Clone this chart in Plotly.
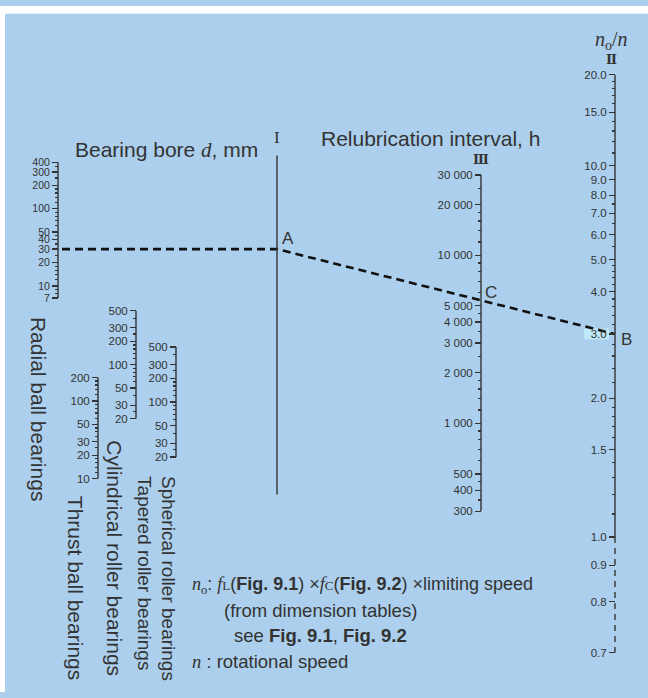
import numpy as np
import plotly.graph_objects as go

W, H = 648, 698
BLUE = "#abcfec"
INK = "#333333"
SANS = "Liberation Sans, Arial, sans-serif"
SERIF = "Liberation Serif, Times New Roman, serif"

# bearing bore d, mm - one scale per bearing type
radial_bore = [400, 300, 200, 100, 50, 40, 30, 20, 10, 7]
radial_minor = [8, 9, 12, 14, 16, 18, 25, 35, 45, 60, 70, 80, 90, 120, 140, 160, 180, 250, 350]
thrust_bore = [200, 100, 50, 30, 20, 10]
thrust_minor = [12, 14, 16, 18, 25, 35, 40, 45, 60, 70, 80, 90, 120, 140, 160, 180]
cyl_bore = [500, 300, 200, 100, 50, 30, 20]
cyl_minor = [25, 40, 60, 70, 80, 90, 120, 140, 160, 180, 250, 400]
sph_bore = [500, 300, 200, 100, 50, 30, 20]
sph_minor = [25, 40, 60, 70, 80, 90, 120, 140, 160, 180, 250, 400]

# relubrication interval, h (scale III)
interval_h = [30000, 20000, 10000, 5000, 4000, 3000, 2000, 1000, 500, 400, 300]
interval_labels = ["30 000", "20 000", "10 000", "5 000", "4 000", "3 000",
                   "2 000", "1 000", "500", "400", "300"]
interval_minor = [350, 450, 600, 700, 800, 900, 1200, 1400, 1600, 1800, 2500, 3500, 4500,
                  6000, 7000, 8000, 9000, 12000, 14000, 16000, 18000, 25000]

# speed ratio n0/n (scale II)
ratio = [20.0, 15.0, 10.0, 9.0, 8.0, 7.0, 6.0, 5.0, 4.0, 3.0, 2.0, 1.5, 1.0, 0.9, 0.8, 0.7]
ratio_minor = [19, 18, 17, 16, 14, 13, 12, 11, 7.5, 6.5, 5.5, 4.8, 4.6, 4.4, 4.2,
               3.8, 3.6, 3.4, 3.2, 2.8, 2.6, 2.4, 2.2, 1.9, 1.8, 1.7, 1.6,
               1.4, 1.3, 1.2, 1.1]

# worked example: radial ball bearing d = 30 mm, n0/n = 3.0
example_bore = 30
example_ratio = 3.0

# page placement of each scale: line x, pixel row of the top / bottom value
scales = {
    "radial": dict(x=58, top=159, bottom=297, vals=radial_bore, minor=radial_minor,
                   labels=[str(v) for v in radial_bore], font=10.5),
    "thrust": dict(x=98, top=378, bottom=481, vals=thrust_bore, minor=thrust_minor,
                   labels=[str(v) for v in thrust_bore]),
    "cyl": dict(x=136, top=310, bottom=420, vals=cyl_bore, minor=cyl_minor,
                labels=[str(v) for v in cyl_bore]),
    "sph": dict(x=176, top=347, bottom=459, vals=sph_bore, minor=sph_minor,
                labels=[str(v) for v in sph_bore]),
    "interval": dict(x=481, top=172, bottom=514, vals=interval_h, minor=interval_minor,
                     labels=interval_labels),
    # scale II is logarithmic in (n0/n - 0.5); dashed below 1.0
    "ratio": dict(x=615, top=70, bottom=658, vals=ratio, minor=ratio_minor,
                  labels=[f"{v:.1f}" for v in ratio], shift=0.5, solid_to=1.0),
}
X_I = 277  # scale I line


def px(x):
    return x / W


def py(y):
    return 1 - y / H


def tfm(s, v):
    return np.log10(np.asarray(v, dtype=float) - s.get("shift", 0.0))


def page_y(s, v):
    lo, hi = tfm(s, min(s["vals"])), tfm(s, max(s["vals"]))
    return s["top"] + (hi - tfm(s, v)) / (hi - lo) * (s["bottom"] - s["top"])


fig = go.Figure()
layout = {}
for i, (key, s) in enumerate(scales.items(), start=2):
    shift = s.get("shift", 0.0)
    vals = [v - shift for v in s["vals"]]
    minor = [v - shift for v in s["minor"]]
    low = min(vals)
    solid_low = s.get("solid_to", min(s["vals"])) - shift
    xa, ya = f"x{i}", f"y{i}"
    fig.add_trace(go.Scatter(x=[0, 0], y=[max(vals), solid_low], mode="lines",
                             line=dict(color=INK, width=1.4), xaxis=xa, yaxis=ya,
                             hoverinfo="skip", showlegend=False))
    if solid_low > low:
        fig.add_trace(go.Scatter(x=[0, 0], y=[solid_low, low], mode="lines",
                                 line=dict(color=INK, width=1.4, dash="6px,5px"),
                                 xaxis=xa, yaxis=ya, hoverinfo="skip", showlegend=False))
    layout[f"xaxis{i}"] = dict(domain=[px(s["x"] - 10), px(s["x"] + 10)], range=[-1, 1],
                               visible=False, anchor=ya)
    layout[f"yaxis{i}"] = dict(
        type="log", domain=[py(s["bottom"]), py(s["top"])],
        range=[np.log10(low), np.log10(max(vals))],
        anchor="free", position=px(s["x"]), side="left",
        showline=False, showgrid=False, zeroline=False,
        ticks="outside", ticklen=6, tickwidth=1.3, tickcolor=INK,
        tickmode="array", tickvals=vals, ticktext=s["labels"],
        tickfont=dict(family=SANS, size=s.get("font", 11.5), color=INK),
        minor=dict(tickmode="array", tickvals=minor, ticks="outside", ticklen=3,
                   tickwidth=1.2, tickcolor=INK, showgrid=False),
    )

# reading line: d on the radial scale -> A on scale I -> B on scale II, crossing III at C
rad, rat, itv = scales["radial"], scales["ratio"], scales["interval"]
yA = float(page_y(rad, example_bore))
yB = float(page_y(rat, example_ratio))
yC = yA + (itv["x"] - X_I) / (rat["x"] - X_I) * (yB - yA)
fig.add_trace(go.Scatter(x=[rad["x"] + 4, X_I, rat["x"]], y=[yA, yA, yB], mode="lines",
                         line=dict(color="#111111", width=2.6, dash="8px,5px"),
                         hoverinfo="skip", showlegend=False))


def note(text, x, y, size, family=SANS, xanchor="left", angle=0, color=INK):
    return dict(text=text, x=px(x), y=py(y), xref="paper", yref="paper", showarrow=False,
                xanchor=xanchor, yanchor="middle", textangle=angle,
                font=dict(family=family, size=size, color=color))


sv = f'<span style="font-family:{SERIF}">'
annotations = [
    note(f"Bearing bore {sv}<i>d</i></span>, mm", 73, 147, 21),
    note("I", X_I, 134, 17, family=SERIF, xanchor="center"),
    note("Relubrication interval, h", 319, 135, 21),
    note("<b>Ⅲ</b>", itv["x"], 156, 13, family="DejaVu Serif", xanchor="center"),
    note("<i>n</i><sub>o</sub>/<i>n</i>", 611, 35, 20, family=SERIF, xanchor="center"),
    note("<b>Ⅱ</b>", 611, 54, 13, family="DejaVu Serif", xanchor="center"),
    note("A", X_I + 11, yA - 11, 17, xanchor="center"),
    note("C", itv["x"] + 10, yC - 8, 17, xanchor="center"),
    note("B", rat["x"] + 11, yB + 6, 17, xanchor="center"),
    note("Radial ball bearings", 38, 410, 21, xanchor="center", angle=90),
    note("Thrust ball bearings", 75, 592, 21, xanchor="center", angle=90),
    note("Cylindrical roller bearings", 115, 562, 21, xanchor="center", angle=90),
    note("Tapered roller bearings", 145, 577, 19, xanchor="center", angle=90),
    note("Spherical roller bearings", 168, 582, 19, xanchor="center", angle=90),
    note(f"{sv}<i>n</i><sub>o</sub></span>: {sv}<i>f</i><span style=\"font-size:13px\">L</span></span>"
         f"(<b>Fig. 9.1</b>) ×{sv}<i>f</i><span style=\"font-size:13px\">C</span></span>"
         f"(<b>Fig. 9.2</b>) ×limiting speed", 190, 590, 18),
    note("(from dimension tables)", 222, 615, 18.5),
    note("see <b>Fig. 9.1</b>, <b>Fig. 9.2</b>", 232, 641, 18.5),
    note(f"{sv}<i>n</i></span> : rotational speed", 190, 667, 18.5),
]

shapes = [
    # white page edge above and left of the blue panel
    dict(type="rect", xref="paper", yref="paper", x0=0, x1=1, y0=py(8), y1=1,
         fillcolor="white", line_width=0, layer="below"),
    dict(type="rect", xref="paper", yref="paper", x0=0, x1=px(5), y0=0, y1=1,
         fillcolor="white", line_width=0, layer="below"),
    # highlight behind the 3.0 label
    dict(type="rect", xref="paper", yref="paper", x0=px(584), x1=px(609),
         y0=py(yB + 5.5), y1=py(yB - 5.5), fillcolor="#bfe8f8", line_width=0, layer="below"),
    # scale I
    dict(type="line", xref="paper", yref="paper", x0=px(X_I), x1=px(X_I), y0=py(152), y1=py(497),
         line=dict(color=INK, width=1.4)),
]

fig.update_layout(
    width=W, height=H, autosize=False,
    margin=dict(l=0, r=0, t=0, b=0),
    paper_bgcolor=BLUE, plot_bgcolor="rgba(0,0,0,0)",
    showlegend=False,
    xaxis=dict(domain=[0, 1], range=[0, W], visible=False),
    yaxis=dict(domain=[0, 1], range=[H, 0], visible=False),
    annotations=annotations,
    shapes=shapes,
    **layout,
)

# drop the browser's default page margin and scrollbars so the figure fills the window
fig.write_html(
    "out.html",
    config={"displayModeBar": False, "staticPlot": True},
    post_script="document.body.style.margin='0';"
                "document.body.style.overflow='hidden';"
                "document.documentElement.style.overflow='hidden';",
)
